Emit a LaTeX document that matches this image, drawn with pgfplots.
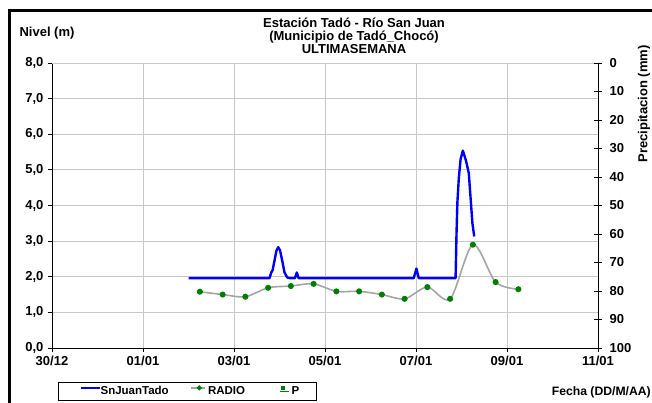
\documentclass[border=0pt]{standalone}
\usepackage{pgfplots}
\pgfplotsset{compat=1.18}
\usepackage{fontspec}
\setmainfont{Liberation Sans}
\newcommand\f{\fontsize{13}{12.7}\selectfont\bfseries}
\definecolor{gridc}{RGB}{200,200,200}
\definecolor{radio}{RGB}{165,165,165}
\definecolor{dotc}{RGB}{0,128,0}
\begin{document}
\begin{tikzpicture}[x=1pt,y=1pt]
\useasboundingbox (0,0) rectangle (652,403);
\draw[line width=2.6pt] (9.7,-5) -- (9.7,392.5) -- (700,392.5);
\begin{axis}[
  at={(52pt,55pt)}, anchor=south west, scale only axis,
  width=546pt, height=285pt,
  xmin=0, xmax=12, ymin=0, ymax=8,
  axis x line*=bottom, axis y line*=left,
  axis line style={black, line width=0.8pt},
  xtick={0,2,...,12},
  xticklabels={30/12,01/01,03/01,05/01,07/01,09/01,11/01},
  ytick={0,1,...,8},
  yticklabels={{0,0},{1,0},{2,0},{3,0},{4,0},{5,0},{6,0},{7,0},{8,0}},
  tick align=outside, major tick length=4pt,
  tick style={black, line width=0.8pt},
  grid=major, grid style={gridc, line width=0.9pt},
  ticklabel style={font=\f},
  xticklabel style={yshift=-1pt},
  yticklabel style={xshift=-1pt},
  legend columns=3,
  legend style={at={(0.011,0)}, anchor=north west, yshift=-33.7pt,
    draw=black, line width=0.6pt, inner xsep=0pt, inner ysep=3.5pt,
    font=\fontsize{11.5}{12}\selectfont\bfseries,
    nodes={inner sep=0pt},
    /tikz/every even column/.style={column sep=0pt},
    /tikz/every odd column/.style={column sep=0pt}},
]
\draw[gridc, line width=0.9pt] (rel axis cs:0,1) -- (rel axis cs:1,1);
\addplot[blue, line width=2.4pt, line join=round,
  legend image code/.code={\path (0pt,0pt); \draw[blue, line width=2.2pt] (21pt,3.5pt) -- (40pt,3.5pt);}]
  coordinates {
(3.00,1.96) (4.78,1.96) (4.82,2.12) (4.85,2.19) (4.89,2.45) (4.93,2.72) (4.97,2.83)
(5.01,2.75) (5.06,2.45) (5.11,2.12) (5.17,1.98) (5.23,1.96) (5.34,1.96) (5.38,2.12)
(5.42,1.96) (7.95,1.96) (8.01,2.23) (8.06,1.96) (8.87,1.96) (8.89,3.2) (8.91,4.1)
(8.94,4.75) (8.98,5.3) (9.03,5.54) (9.10,5.25) (9.16,4.91) (9.20,4.2) (9.24,3.5) (9.28,3.13)
  };
\addlegendentry{\makebox[90pt][l]{SnJuanTado}}
\addplot[radio, line width=1.6pt, smooth, tension=0.5,
  mark=*, mark size=2.2pt, mark options={dotc, fill=dotc, draw=dotc},
  legend image code/.code={\draw[radio, line width=1.4pt] (0pt,3.5pt) -- (14pt,3.5pt); \draw[dotc, fill=dotc] (8pt,3.5pt) circle (1.6pt);}]
  coordinates {
(3.25,1.58) (3.75,1.50) (4.25,1.44) (4.75,1.69) (5.25,1.74) (5.75,1.80) (6.25,1.59)
(6.75,1.59) (7.25,1.50) (7.75,1.38) (8.25,1.71) (8.75,1.38) (9.25,2.90) (9.75,1.85) (10.25,1.65)
  };
\addlegendentry{\makebox[74pt][l]{\hspace{2pt}RADIO}}
\addlegendimage{only marks, mark=square*, mark size=1.5pt, dotc,
  legend image code/.code={\path (0pt,0pt) -- (9pt,0pt); \fill[dotc] (0.6pt,2pt) rectangle (3.6pt,5pt);}}
\addlegendentry{\makebox[27pt][l]{\hspace{2pt}P}}
\end{axis}
\begin{axis}[
  at={(52pt,55pt)}, anchor=south west, scale only axis,
  width=546pt, height=285pt,
  xmin=0, xmax=12, ymin=0, ymax=100, y dir=reverse,
  axis x line=none, axis y line*=right,
  axis line style={black, line width=0.8pt},
  ytick={0,10,...,100},
  tick align=center, major tick length=8pt,
  tick style={black, line width=0.8pt},
  ticklabel style={font=\f},
  /pgf/number format/assume math mode=true,
  yticklabel style={xshift=4pt},
]
\end{axis}
\node[font=\f, align=center] at (354,367) {Estación Tadó - Río San Juan\\(Municipio de Tadó\_Chocó)\\ULTIMASEMANA};
\node[font=\f] at (47,370) {Nivel (m)};
\node[font=\fontsize{12.2}{12.7}\selectfont\bfseries, anchor=east, inner xsep=0pt] at (651,11) {Fecha (DD/M/AA)};
\node[font=\f, rotate=90] at (644,299) {Precipitacion (mm)};
\end{tikzpicture}
\end{document}
